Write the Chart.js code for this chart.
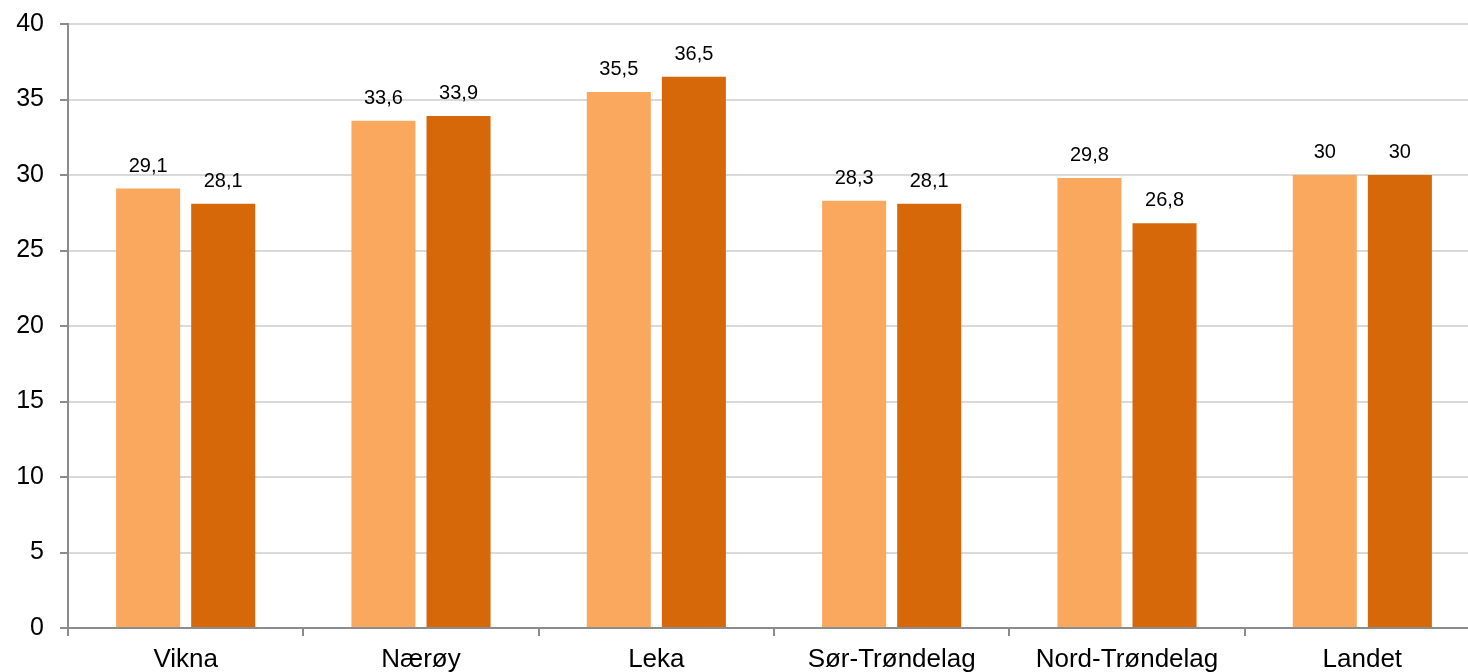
<!DOCTYPE html>
<html>
<head>
<meta charset="UTF-8">
<title>Andel</title>
<script src="https://cdn.jsdelivr.net/npm/chart.js@4/dist/chart.umd.min.js"></script>
<style>
    html, body { margin: 0; padding: 0; background: #fff; }
    body { width: 1468px; height: 672px; overflow: hidden; }
    #wrap { width: 1480px; height: 672px; position: relative; }
</style>
</head>
<body>
<div id="wrap"><canvas id="chart" width="1480" height="672"></canvas></div>
<script>
    var kommuner = ['Vikna', 'Nærøy', 'Leka', 'Sør-Trøndelag', 'Nord-Trøndelag', 'Landet'];
    var serie1 = [29.1, 33.6, 35.5, 28.3, 29.8, 30];
    var serie2 = [28.1, 33.9, 36.5, 28.1, 26.8, 30];
    var yMin = 0, yMax = 40, yStep = 5;

    // verdier over søylene, med komma som desimaltegn
    var verdiEtiketter = {
        id: 'verdiEtiketter',
        afterDatasetsDraw: function (chart) {
            var ctx = chart.ctx;
            ctx.save();
            ctx.font = '20px "Liberation Sans", Arial, sans-serif';
            ctx.fillStyle = '#000';
            ctx.textAlign = 'center';
            ctx.textBaseline = 'alphabetic';
            chart.data.datasets.forEach(function (ds, i) {
                chart.getDatasetMeta(i).data.forEach(function (bar, j) {
                    var tekst = String(ds.data[j]).replace('.', ',');
                    ctx.fillText(tekst, bar.x, bar.y - 17);
                });
            });
            ctx.restore();
        }
    };

    var ctx = document.getElementById('chart').getContext('2d');
    var chart = new Chart(ctx, {
        type: 'bar',
        data: {
            labels: kommuner,
            datasets: [{
                data: serie1,
                backgroundColor: '#F9A85D',
                categoryPercentage: 0.638,
                barPercentage: 0.853
            }, {
                data: serie2,
                backgroundColor: '#D7680A',
                categoryPercentage: 0.638,
                barPercentage: 0.853
            }]
        },
        options: {
            responsive: false,
            animation: false,
            devicePixelRatio: 1,
            layout: { padding: { top: 24, right: 0, left: 0, bottom: 0 } },
            plugins: { legend: { display: false }, tooltip: { enabled: false } },
            scales: {
                x: {
                    offset: true,
                    grid: { offset: true, drawOnChartArea: false, color: '#8C8C8C', lineWidth: 2, tickLength: 8 },
                    border: { color: '#8C8C8C', width: 2 },
                    ticks: { color: '#000', padding: 8, maxRotation: 0, autoSkip: false, font: { family: '"Liberation Sans", Arial, sans-serif', size: 26 } },
                    afterFit: function (s) { s.height = 44; s.paddingLeft = 0; s.paddingRight = 0; }
                },
                y: {
                    min: yMin,
                    max: yMax,
                    ticks: { stepSize: yStep, color: '#000', padding: 16, font: { family: '"Liberation Sans", Arial, sans-serif', size: 25 } },
                    grid: { color: '#D9D9D9', lineWidth: 2, tickLength: 8, tickColor: '#8C8C8C' },
                    border: { color: '#8C8C8C', width: 2 },
                    afterFit: function (s) { s.width = 68; s.paddingTop = 0; s.paddingBottom = 0; }
                }
            }
        },
        plugins: [verdiEtiketter]
    });
</script>
</body>
</html>
